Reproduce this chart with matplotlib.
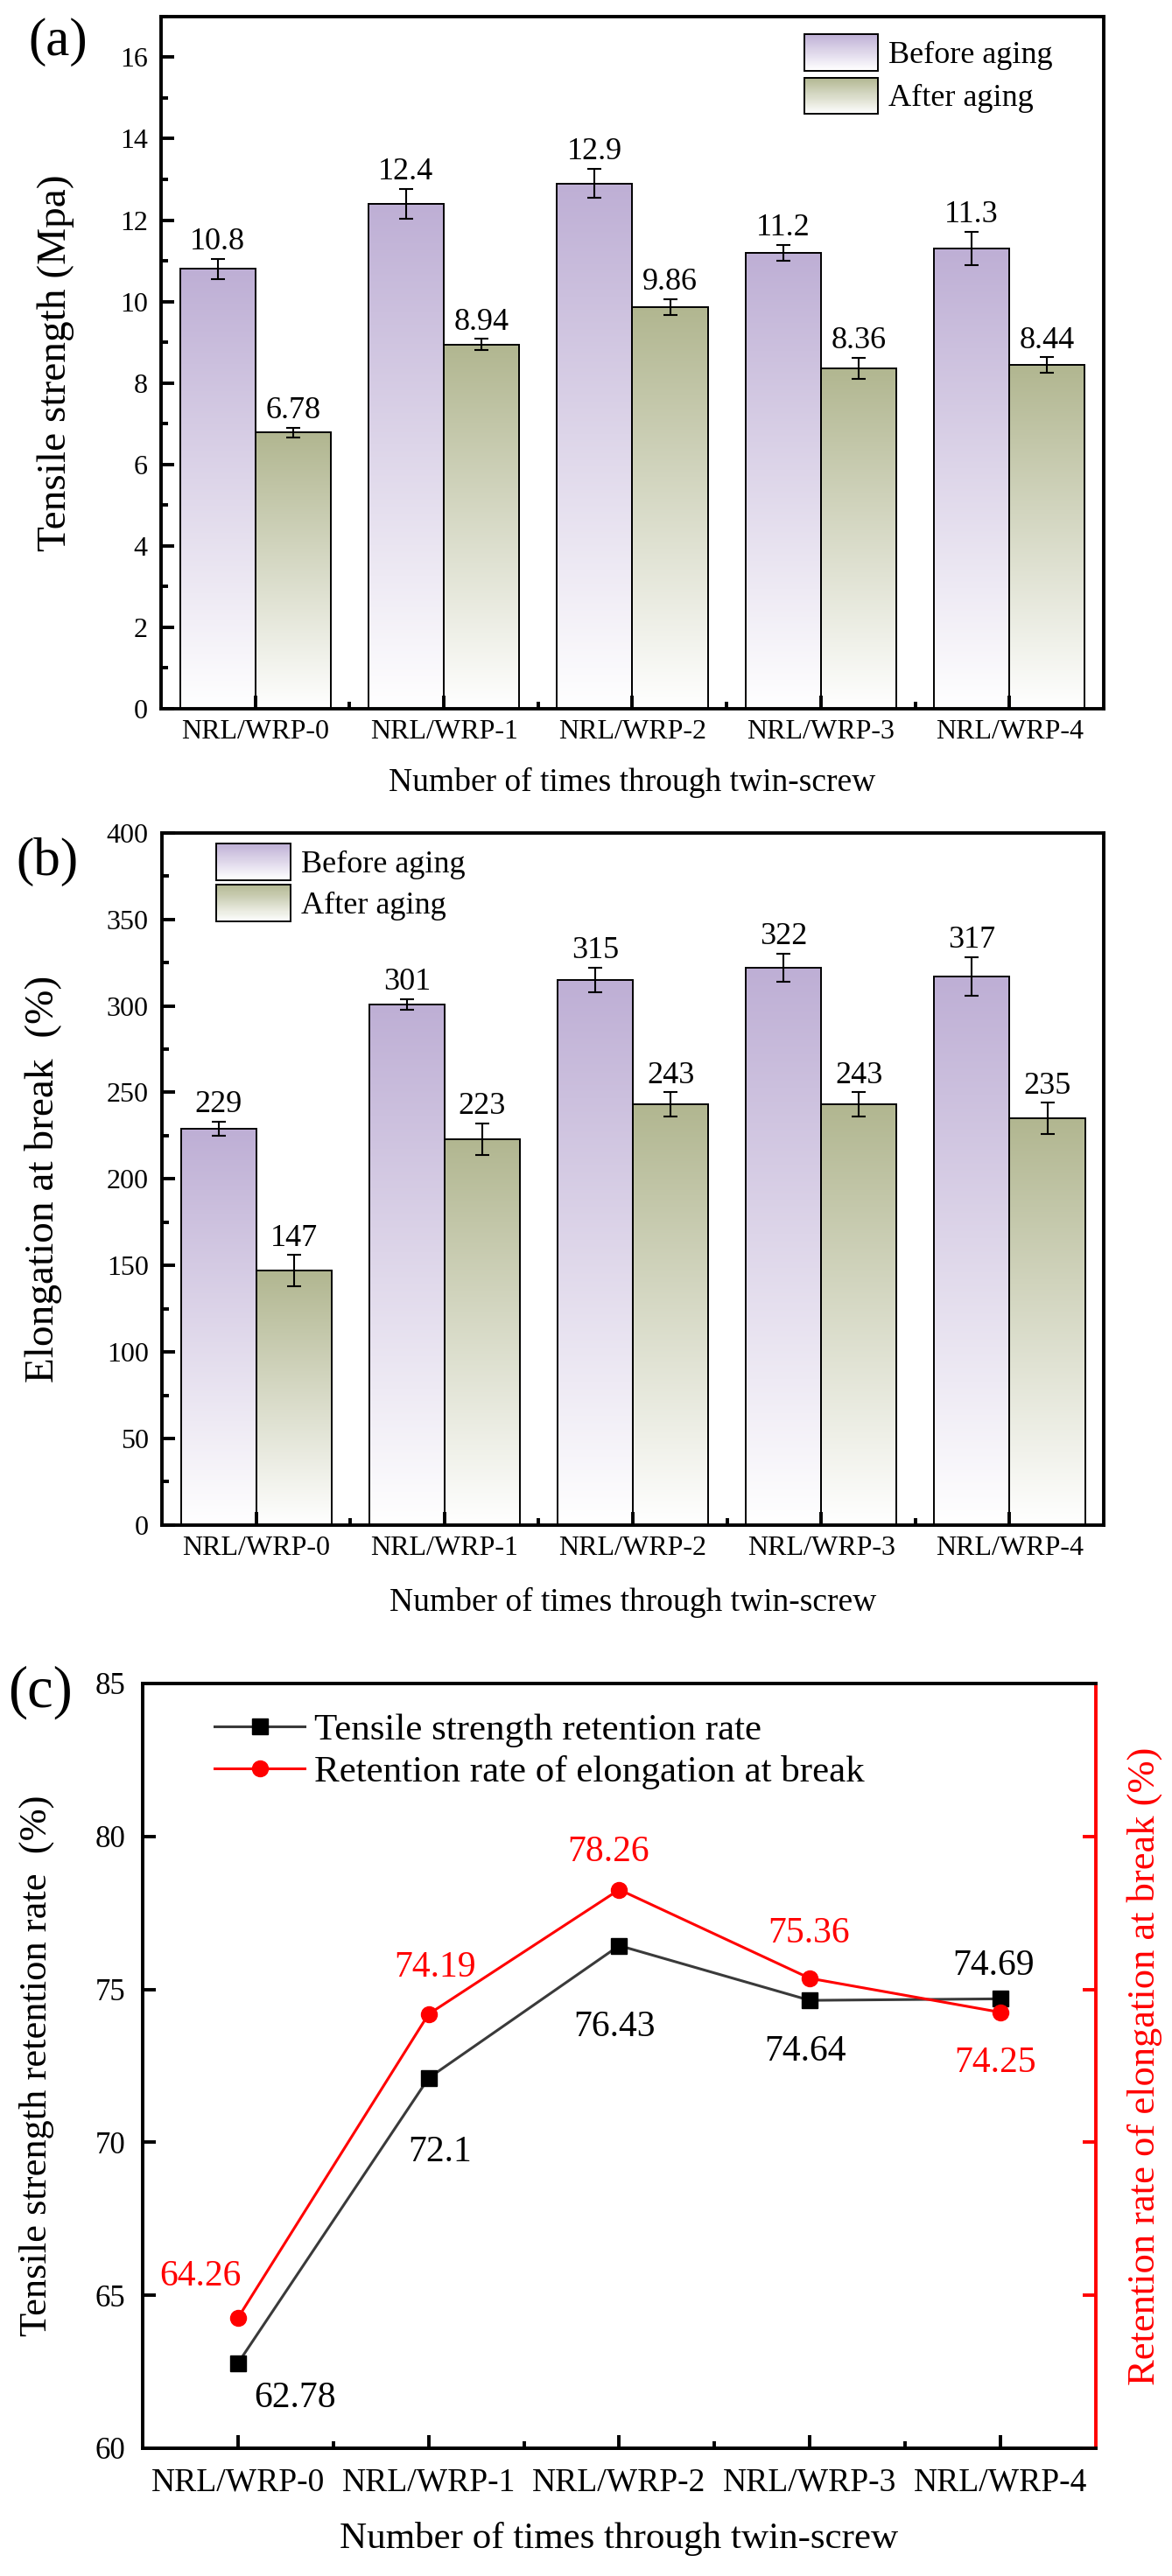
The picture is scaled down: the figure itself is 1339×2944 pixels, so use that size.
import numpy as np
import matplotlib
matplotlib.use("Agg")
import matplotlib.pyplot as plt
from matplotlib.legend_handler import HandlerBase
from matplotlib.patches import Rectangle
from matplotlib.lines import Line2D
from matplotlib.ticker import MultipleLocator, FixedLocator

plt.rcParams['font.family'] = ['Liberation Serif', 'DejaVu Serif']

# data
samples = ["NRL/WRP-0", "NRL/WRP-1", "NRL/WRP-2", "NRL/WRP-3", "NRL/WRP-4"]
ts_before = [10.8, 12.4, 12.9, 11.2, 11.3]
ts_before_err = [0.25, 0.37, 0.36, 0.19, 0.41]
ts_after = [6.78, 8.94, 9.86, 8.36, 8.44]
ts_after_err = [0.12, 0.14, 0.19, 0.25, 0.19]
el_before = [229, 301, 315, 322, 317]
el_before_err = [4, 3, 7, 8, 11]
el_after = [147, 223, 243, 243, 235]
el_after_err = [9, 9, 7, 7, 9]
ts_retention = [62.78, 72.1, 76.43, 74.64, 74.69]
el_retention = [64.26, 74.19, 78.26, 75.36, 74.25]

# label offsets in points for panel (c)
ts_offsets = [(47, -29), (9, -61), (-4, -67), (-4, -42), (-6, 27)]
el_offsets = [(-31, 34), (5, 38), (-9, 31), (-1, 37), (-4, -42)]

purple = (0.745, 0.685, 0.835)
green = (0.695, 0.715, 0.565)
SPW = 2.8


class GradientHandler(HandlerBase):
    def __init__(self, color):
        super().__init__()
        self.color = np.array(color)

    def create_artists(self, legend, orig_handle, xdescent, ydescent, width, height, fontsize, trans):
        arts = []
        n = 40
        for i in range(n):
            t = (i + 0.5) / n
            c = 1 - t * (1 - self.color)
            arts.append(Rectangle((-xdescent, -ydescent + height * i / n), width, height / n + 0.3,
                                  facecolor=c, edgecolor='none', transform=trans))
        arts.append(Rectangle((-xdescent, -ydescent), width, height, facecolor='none',
                              edgecolor='black', linewidth=1.4, transform=trans))
        return arts


def gradient_bars(ax, xs, heights, width, color):
    col = np.array(color).reshape(1, 1, 3)
    for xc, h in zip(xs, heights):
        t = np.linspace(0, 1, 256).reshape(-1, 1, 1)
        img = 1 - t * (1 - col)
        ax.imshow(img, extent=[xc - width / 2, xc + width / 2, 0, h], origin='lower',
                  aspect='auto', zorder=1, interpolation='bilinear')
    ax.bar(xs, heights, width, facecolor='none', edgecolor='black', linewidth=1.4, zorder=2)


def bar_panel(ax, before, before_err, after, after_err, ymax, major, ylabel):
    x = np.arange(len(samples))
    w = 0.4
    gradient_bars(ax, x - w / 2, before, w, purple)
    gradient_bars(ax, x + w / 2, after, w, green)
    ax.errorbar(x - w / 2, before, yerr=before_err, fmt='none', ecolor='black',
                elinewidth=1.5, capsize=6, capthick=1.5, zorder=3)
    ax.errorbar(x + w / 2, after, yerr=after_err, fmt='none', ecolor='black',
                elinewidth=1.5, capsize=6, capthick=1.5, zorder=3)
    for xs, vals, errs in [(x - w / 2, before, before_err), (x + w / 2, after, after_err)]:
        for xi, v, e in zip(xs, vals, errs):
            ax.annotate(f"{v:g}", (xi, v + e), xytext=(0, 2), textcoords='offset points',
                        ha='center', va='bottom', fontsize=26)
    ax.set_xlim(-0.5, 4.5)
    ax.set_ylim(0, ymax)
    ax.set_xticks(x)
    ax.set_xticklabels(samples)
    ax.xaxis.set_minor_locator(FixedLocator(x[:-1] + 0.5))
    ax.yaxis.set_major_locator(MultipleLocator(major))
    ax.yaxis.set_minor_locator(MultipleLocator(major / 2))
    ax.tick_params(which='both', direction='in', width=SPW, top=False, right=False)
    ax.tick_params(which='major', length=10.5, labelsize=23)
    ax.tick_params(which='minor', length=5.5)
    ax.tick_params(axis='x', pad=9)
    ax.tick_params(axis='y', pad=11)
    for s in ax.spines.values():
        s.set_linewidth(SPW)
    ax.set_xlabel("Number of times through twin-screw", fontsize=27)
    ax.set_ylabel(ylabel, fontsize=34)


fig = plt.figure(figsize=(13.39, 29.44), dpi=100)

# (a) tensile strength
ax_a = fig.add_axes([0.1374, 0.7249, 0.8043, 0.2687])
bar_panel(ax_a, ts_before, ts_before_err, ts_after, ts_after_err, 17, 2, "Tensile strength (Mpa)")
ax_a.xaxis.set_label_coords(0.5, -0.085)
ax_a.yaxis.set_label_coords(-0.092, 0.5)
h1 = Rectangle((0, 0), 1, 1)
h2 = Rectangle((0, 0), 1, 1)
ax_a.legend([h1, h2], ["Before aging", "After aging"],
            handler_map={h1: GradientHandler(purple), h2: GradientHandler(green)},
            loc='upper right', bbox_to_anchor=(0.946, 0.975), frameon=False, fontsize=26,
            handlelength=2.33, handleheight=1.41, handletextpad=0.33, labelspacing=0.22,
            borderpad=0, borderaxespad=0)

# (b) elongation at break
ax_b = fig.add_axes([0.1382, 0.4080, 0.8036, 0.2687])
bar_panel(ax_b, el_before, el_before_err, el_after, el_after_err, 400, 50, "Elongation at break  (%)")
ax_b.xaxis.set_label_coords(0.5, -0.090)
ax_b.yaxis.set_label_coords(-0.106, 0.5)
h3 = Rectangle((0, 0), 1, 1)
h4 = Rectangle((0, 0), 1, 1)
ax_b.legend([h3, h4], ["Before aging", "After aging"],
            handler_map={h3: GradientHandler(purple), h4: GradientHandler(green)},
            loc='upper left', bbox_to_anchor=(0.058, 0.985), frameon=False, fontsize=26,
            handlelength=2.33, handleheight=1.41, handletextpad=0.33, labelspacing=0.15,
            borderpad=0, borderaxespad=0)

# (c) retention rates
ax_c = fig.add_axes([0.1217, 0.0496, 0.8133, 0.2969])
ax_r = ax_c.twinx()
x = np.arange(len(samples))
l1, = ax_c.plot(x, ts_retention, color='#3a3a3a', lw=2.2, marker='s', ms=13,
                mfc='black', mec='black', zorder=3)
l2, = ax_r.plot(x, el_retention, color='red', lw=2.2, marker='o', ms=13,
                mfc='red', mec='red', zorder=3)
for xi, v, off in zip(x, ts_retention, ts_offsets):
    ax_c.annotate(f"{v:g}", (xi, v), xytext=off, textcoords='offset points',
                  ha='center', va='center', fontsize=30, color='black')
for xi, v, off in zip(x, el_retention, el_offsets):
    ax_r.annotate(f"{v:g}", (xi, v), xytext=off, textcoords='offset points',
                  ha='center', va='center', fontsize=30, color='red')
for a in (ax_c, ax_r):
    a.set_xlim(-0.5, 4.5)
    a.set_ylim(60, 85)
    a.yaxis.set_major_locator(MultipleLocator(5))
    for s in a.spines.values():
        s.set_linewidth(SPW)
ax_c.spines['right'].set_visible(False)
ax_r.spines['left'].set_visible(False)
ax_r.spines['right'].set_color('red')
ax_c.set_xticks(x)
ax_c.set_xticklabels(samples)
ax_c.xaxis.set_minor_locator(FixedLocator(x[:-1] + 0.5))
ax_c.tick_params(which='both', direction='in', width=SPW, top=False)
ax_c.tick_params(which='major', length=10.5)
ax_c.tick_params(which='minor', length=5.5)
ax_c.tick_params(axis='x', labelsize=27, pad=16)
ax_c.tick_params(axis='y', labelsize=25, pad=14)
ax_r.tick_params(axis='y', direction='in', length=10.5, width=SPW, colors='red', labelright=False)
ax_c.set_xlabel("Number of times through twin-screw", fontsize=31)
ax_c.xaxis.set_label_coords(0.5, -0.096)
ax_c.set_ylabel("Tensile strength retention rate  (%)", fontsize=32)
ax_c.yaxis.set_label_coords(-0.093, 0.5)
ax_r.set_ylabel("Retention rate of elongation at break (%)", fontsize=32, color='red')
ax_r.yaxis.set_label_coords(1.032, 0.5)
ax_c.legend([l1, l2], ["Tensile strength retention rate", "Retention rate of elongation at break"],
            loc='upper left', bbox_to_anchor=(0.0753, 0.961), frameon=False, fontsize=31,
            handlelength=2.4, handletextpad=0.25, labelspacing=0.2, numpoints=1,
            borderpad=0, borderaxespad=0)

fig.text(32 / 1339, 1 - 20 / 2944, "(a)", fontsize=44, ha='left', va='top')
fig.text(18 / 1339, 1 - 957 / 2944, "(b)", fontsize=44, ha='left', va='top')
fig.text(9 / 1339, 1 - 1903 / 2944, "(c)", fontsize=48, ha='left', va='top')

fig.savefig("out.png", dpi=100, facecolor='white')
